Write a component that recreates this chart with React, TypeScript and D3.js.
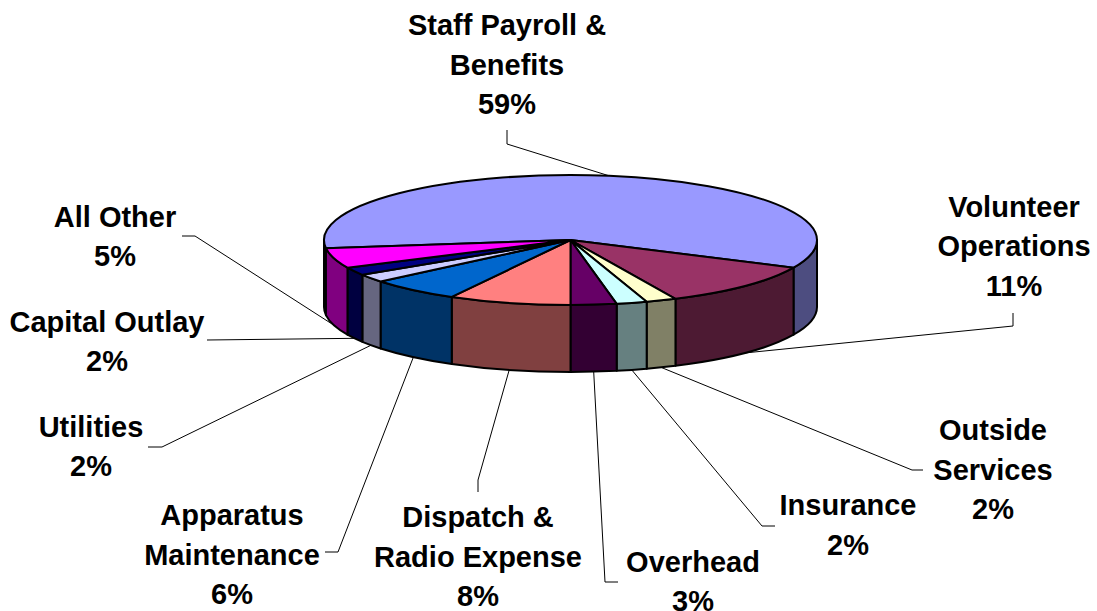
import React from "react";
import * as d3 from "d3";

const categories = [
  "Staff Payroll & Benefits",
  "Volunteer Operations",
  "Outside Services",
  "Insurance",
  "Overhead",
  "Dispatch & Radio Expense",
  "Apparatus Maintenance",
  "Utilities",
  "Capital Outlay",
  "All Other",
];
const values = [59, 11, 2, 2, 3, 8, 6, 2, 2, 5];
const labelLines = [
  ["Staff Payroll &", "Benefits"],
  ["Volunteer", "Operations"],
  ["Outside", "Services"],
  ["Insurance"],
  ["Overhead"],
  ["Dispatch &", "Radio Expense"],
  ["Apparatus", "Maintenance"],
  ["Utilities"],
  ["Capital Outlay"],
  ["All Other"],
];
const topColors = [
  "#9999FF", "#993366", "#FFFFCC", "#CCFFFF", "#660066",
  "#FF8080", "#0066CC", "#CCCCFF", "#000080", "#FF00FF",
];

// layout (not data)
const W = 1097, H = 611;
const CX = 570.5, CY = 240, RX = 246.5, RY = 65, DEPTH = 67;
const ROT = -97.2; // degrees, d3 pie start rotation
const FONT = 29, LINE_H = 39.5;
const labelLayout = [
  { x: 507, y: 35, leader: [[507, 130], [507, 144]] },
  { x: 1014, y: 216.5, leader: [[1013, 313], [1013, 326]] },
  { x: 993, y: 440, leader: [[923, 470], [912, 470]] },
  { x: 848, y: 515, leader: [[775, 526], [762, 526]] },
  { x: 693, y: 571.5, leader: [[618, 582], [605, 582]] },
  { x: 478, y: 527, leader: [[478, 492], [478, 480]] },
  { x: 232, y: 525, leader: [[325, 552], [338, 552]] },
  { x: 91, y: 436.5, leader: [[148, 447], [162, 447]] },
  { x: 107, y: 331.5, leader: [[207, 340]] },
  { x: 115, y: 226.5, leader: [[182, 236], [195, 236]] },
];

function darken(c: string) {
  const col = d3.rgb(c);
  return d3.rgb(col.r * 0.5, col.g * 0.5, col.b * 0.5).formatHex();
}

const pt = (t: number, dy = 0): [number, number] => [
  CX + RX * Math.cos(t),
  CY + RY * Math.sin(t) + dy,
];

export default function App() {
  const rot = (ROT * Math.PI) / 180;
  const arcs = d3
    .pie<number>()
    .sort(null)
    .startAngle(rot)
    .endAngle(rot + 2 * Math.PI)(values);

  // convert d3 angle (0 at top, clockwise) to screen param angle (0 at right, clockwise)
  const toScreen = (a: number) => a - Math.PI / 2;

  const slices = arcs.map((a, i) => {
    let t1 = toScreen(a.startAngle);
    let t2 = toScreen(a.endAngle);
    while (t1 < 0) { t1 += 2 * Math.PI; t2 += 2 * Math.PI; }
    return { i, t1, t2 };
  });

  const walls: { d: string; fill: string; key: string }[] = [];
  slices.forEach(({ i, t1, t2 }) => {
    for (const base of [0, 2 * Math.PI, -2 * Math.PI]) {
      const a = Math.max(t1, base);
      const b = Math.min(t2, base + Math.PI);
      if (b > a + 1e-6) {
        const p1 = pt(a), p2 = pt(b), p3 = pt(b, DEPTH), p4 = pt(a, DEPTH);
        const d = `M${p1[0]},${p1[1]}A${RX},${RY} 0 0 1 ${p2[0]},${p2[1]}L${p3[0]},${p3[1]}A${RX},${RY} 0 0 0 ${p4[0]},${p4[1]}Z`;
        walls.push({ d, fill: darken(topColors[i]), key: `w${i}_${base}` });
      }
    }
  });

  const tops = slices.map(({ i, t1, t2 }) => {
    const p1 = pt(t1), p2 = pt(t2);
    const large = t2 - t1 > Math.PI ? 1 : 0;
    return {
      key: `t${i}`,
      fill: topColors[i],
      d: `M${CX},${CY}L${p1[0]},${p1[1]}A${RX},${RY} 0 ${large} 1 ${p2[0]},${p2[1]}Z`,
    };
  });

  const leaders = slices.map(({ i, t1, t2 }) => {
    const m = (t1 + t2) / 2;
    const s = Math.sin(m);
    const end = s > 0 ? pt(m, DEPTH) : pt(m);
    const pts = [...labelLayout[i].leader, end] as [number, number][];
    return { key: `l${i}`, d: d3.line()(pts) as string };
  });

  return (
    <svg
      width={W}
      height={H}
      style={{ position: "absolute", left: 0, top: 0, background: "#fff" }}
    >
      <g>
        {leaders.map((l) => (
          <path key={l.key} d={l.d} fill="none" stroke="#000" strokeWidth={1} />
        ))}
      </g>
      <g stroke="#000" strokeWidth={2} strokeLinejoin="round">
        {walls.map((w) => (
          <path key={w.key} d={w.d} fill={w.fill} />
        ))}
        {tops.map((t) => (
          <path key={t.key} d={t.d} fill={t.fill} />
        ))}
      </g>
      <g
        fontFamily="'Liberation Sans', Arial, sans-serif"
        fontWeight="bold"
        fontSize={FONT}
        textAnchor="middle"
        fill="#000"
      >
        {categories.map((c, i) => {
          const lines = [...labelLines[i], `${values[i]}%`];
          return (
            <text key={c} x={labelLayout[i].x} y={labelLayout[i].y}>
              {lines.map((ln, j) => (
                <tspan key={j} x={labelLayout[i].x} y={labelLayout[i].y + j * LINE_H}>
                  {ln}
                </tspan>
              ))}
            </text>
          );
        })}
      </g>
    </svg>
  );
}
